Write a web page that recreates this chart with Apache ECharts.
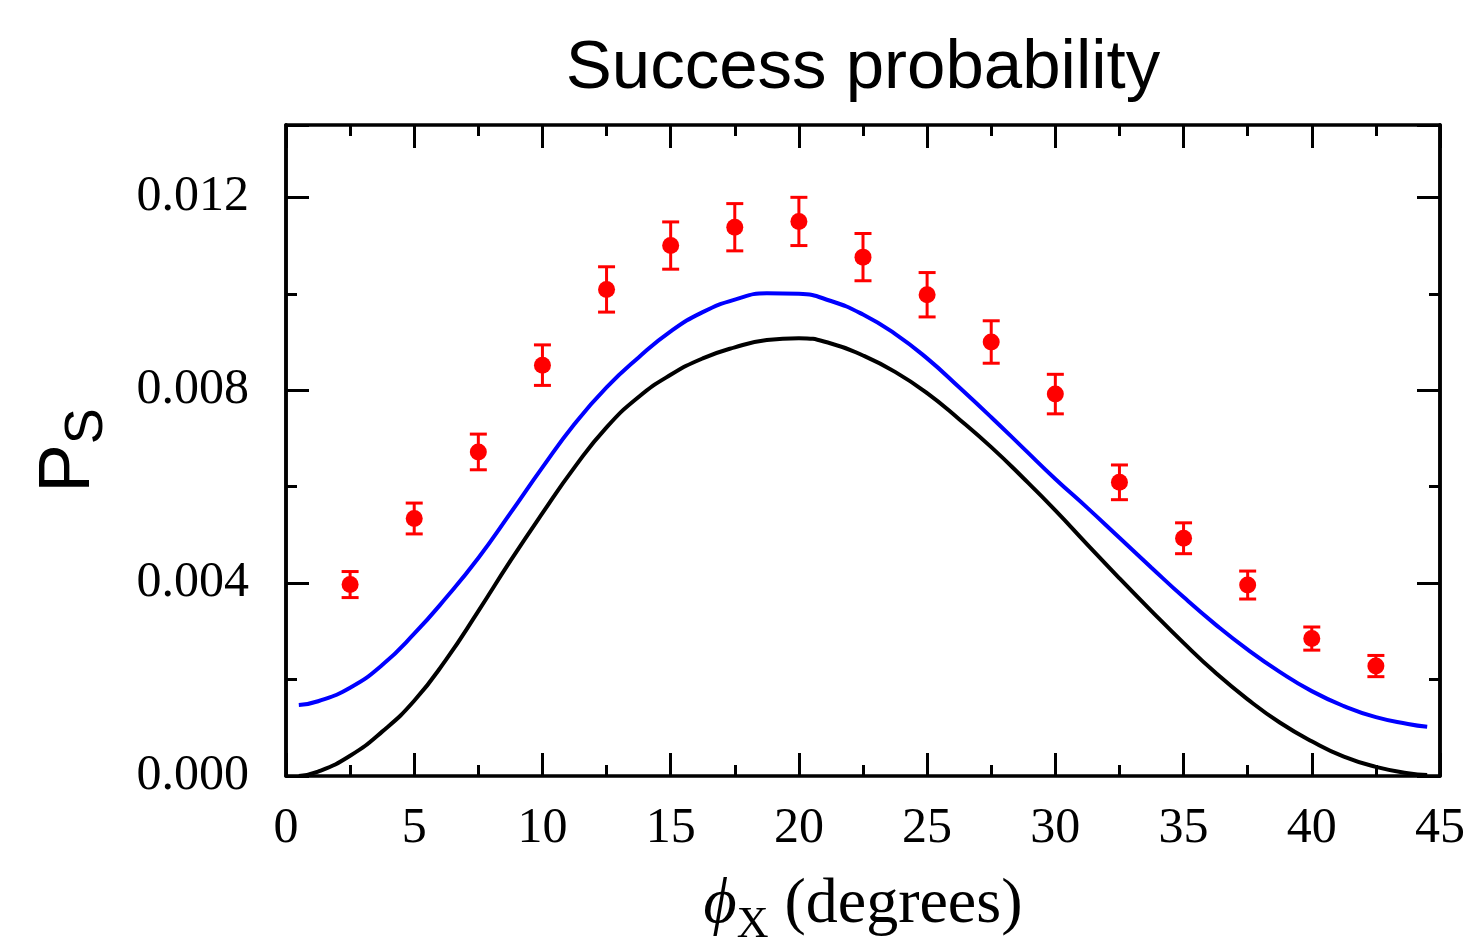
<!DOCTYPE html>
<html>
<head>
<meta charset="utf-8">
<script src="https://cdn.jsdelivr.net/npm/echarts@6/dist/echarts.min.js"></script>
<style>
html,body{margin:0;padding:0;background:#fff;}
#c{width:1466px;height:945px;}
</style>
</head>
<body>
<div id="c"></div>
<script>
// Experimental points (phi_X in degrees, success probability, error)
const expX = [2.5, 5, 7.5, 10, 12.5, 15, 17.5, 20, 22.5, 25, 27.5, 30, 32.5, 35, 37.5, 40, 42.5];
const expY = [0.00397, 0.00534, 0.00672, 0.00852, 0.01009, 0.01100, 0.01138, 0.01150, 0.01076, 0.00998, 0.00900, 0.00792, 0.00609, 0.00493, 0.00396, 0.00285, 0.00228];
const expErr = [0.00027, 0.00032, 0.00037, 0.00042, 0.00047, 0.00049, 0.00049, 0.00050, 0.00049, 0.00046, 0.00044, 0.00041, 0.00036, 0.00032, 0.00029, 0.00024, 0.00022];

// Theory curves at these phi_X positions
const curveX = [0.5, 1.25, 2.5, 3.75, 5, 6.25, 7.5, 8.75, 10, 11.25, 12.5, 13.75, 15, 16.25, 17.5, 18.75, 20, 21.25, 22.5, 23.75, 25, 26.25, 27.5, 28.75, 30, 31.25, 32.5, 33.75, 35, 36.25, 37.5, 38.75, 40, 41.25, 42.5, 43.75, 44.5];
// Blue theory curve
const blueY = [0.00147, 0.00155, 0.00183, 0.00230, 0.00295, 0.00370, 0.00452, 0.00545, 0.00640, 0.00730, 0.00806, 0.00868, 0.00922, 0.00962, 0.00988, 0.01001, 0.01000, 0.00985, 0.00957, 0.00917, 0.00866, 0.00806, 0.00744, 0.00680, 0.00616, 0.00556, 0.00494, 0.00432, 0.00371, 0.00314, 0.00262, 0.00216, 0.00176, 0.00145, 0.00122, 0.00108, 0.00102];
// Black theory curve
const blackY = [0.00000, 0.00009, 0.00042, 0.00092, 0.00156, 0.00242, 0.00342, 0.00446, 0.00545, 0.00640, 0.00723, 0.00786, 0.00832, 0.00866, 0.00889, 0.00904, 0.00908, 0.00897, 0.00872, 0.00838, 0.00794, 0.00740, 0.00682, 0.00618, 0.00551, 0.00480, 0.00410, 0.00342, 0.00276, 0.00214, 0.00159, 0.00111, 0.00072, 0.00040, 0.00019, 0.00006, 0.00002];

const xMin = 0, xMax = 45, xStep = 5;
const yMin = 0, yMax = 0.0135, yMajor = 0.004, yMinor = 0.002;

const titleText = 'Success probability';

const chart = echarts.init(document.getElementById('c'), null, {renderer: 'canvas'});

const serif = 'Liberation Serif';
const sans = 'Liberation Sans';
const frameW = 3.5;

function yAxisCfg(pos, interval, tickLen, showLabel) {
  return {
    type: 'value', position: pos, min: yMin, max: yMax, interval: interval,
    axisLine: {show: true, onZero: false, lineStyle: {color: '#000', width: frameW}},
    axisTick: {show: true, inside: true, length: tickLen, lineStyle: {color: '#000', width: 3}},
    splitLine: {show: false},
    axisLabel: showLabel ? {
      show: true, margin: 37, fontFamily: serif, fontSize: 50, color: '#000',
      formatter: function (v) {
        const r = Math.round(v / yMajor);
        if (Math.abs(r * yMajor - v) > 1e-9) return '';
        return v.toFixed(3);
      }
    } : {show: false}
  };
}

function xAxisCfg(pos, showLabel) {
  return {
    type: 'value', position: pos, min: xMin, max: xMax, interval: xStep,
    axisLine: {show: true, onZero: false, lineStyle: {color: '#000', width: frameW}},
    axisTick: {show: true, inside: true, length: 23, lineStyle: {color: '#000', width: 3}},
    minorTick: {show: true, splitNumber: 2, length: 11, lineStyle: {color: '#000', width: 3}},
    splitLine: {show: false},
    minorSplitLine: {show: false},
    axisLabel: showLabel ? {show: true, margin: 28, fontFamily: serif, fontSize: 50, color: '#000'} : {show: false}
  };
}

const xBottom = xAxisCfg('bottom', true);
xBottom.name = '{phi|ϕ}{sub|X}{t| (degrees)}';
xBottom.nameLocation = 'middle';
xBottom.nameGap = 107;
xBottom.nameTextStyle = {
  color: '#000',
  rich: {
    phi: {fontFamily: serif, fontStyle: 'italic', fontSize: 64, lineHeight: 64, padding: [0, 0, 19, 0], color: '#000'},
    sub: {fontFamily: serif, fontSize: 44, lineHeight: 44, verticalAlign: 'bottom', color: '#000'},
    t: {fontFamily: serif, fontSize: 64, lineHeight: 64, padding: [0, 0, 19, 0], color: '#000'}
  }
};

const yLeft = yAxisCfg('left', yMajor, 23, true);
yLeft.name = '{p|P}{s|S}';
yLeft.nameLocation = 'middle';
yLeft.nameGap = 172;
yLeft.nameTextStyle = {
  color: '#000',
  rich: {
    p: {fontFamily: sans, fontSize: 73, lineHeight: 73, padding: [0, 0, 17, 0], color: '#000'},
    s: {fontFamily: sans, fontSize: 54, lineHeight: 54, verticalAlign: 'bottom', color: '#000'}
  }
};

const errData = expX.map((x, i) => [x, expY[i] - expErr[i], expY[i] + expErr[i]]);
const expData = expX.map((x, i) => [x, expY[i]]);
const blueData = curveX.map((x, i) => [x, blueY[i]]);
const blackData = curveX.map((x, i) => [x, blackY[i]]);

const option = {
  animation: false,
  backgroundColor: '#fff',
  title: {
    text: titleText, left: 863, top: 34, textAlign: 'center', padding: 0,
    textStyle: {fontFamily: sans, fontSize: 69, fontWeight: 'normal', color: '#000'}
  },
  grid: {left: 286, right: 26, top: 125, bottom: 169, containLabel: false, outerBoundsMode: 'none'},
  xAxis: [xBottom, xAxisCfg('top', false)],
  yAxis: [
    yLeft,
    yAxisCfg('left', yMinor, 11, false),
    yAxisCfg('right', yMajor, 23, false),
    yAxisCfg('right', yMinor, 11, false)
  ],
  series: [
    {
      type: 'line', data: blackData, xAxisIndex: 0, yAxisIndex: 0,
      smooth: 0.5, showSymbol: false, symbol: 'none',
      lineStyle: {color: '#000', width: 4}, z: 2
    },
    {
      type: 'line', data: blueData, xAxisIndex: 0, yAxisIndex: 0,
      smooth: 0.5, showSymbol: false, symbol: 'none',
      lineStyle: {color: '#0000ff', width: 4}, z: 2
    },
    {
      type: 'custom', xAxisIndex: 0, yAxisIndex: 0, data: errData, z: 3,
      renderItem: function (params, api) {
        const x = api.value(0);
        const top = api.coord([x, api.value(2)]);
        const bot = api.coord([x, api.value(1)]);
        const half = 8.5;
        const st = {stroke: '#ff0000', lineWidth: 3};
        return {
          type: 'group',
          children: [
            {type: 'line', shape: {x1: top[0], y1: top[1], x2: bot[0], y2: bot[1]}, style: st},
            {type: 'line', shape: {x1: top[0] - half, y1: top[1], x2: top[0] + half, y2: top[1]}, style: st},
            {type: 'line', shape: {x1: bot[0] - half, y1: bot[1], x2: bot[0] + half, y2: bot[1]}, style: st}
          ]
        };
      }
    },
    {
      type: 'scatter', data: expData, xAxisIndex: 0, yAxisIndex: 0,
      symbol: 'circle', symbolSize: 17, itemStyle: {color: '#ff0000', opacity: 1}, z: 4
    }
  ]
};
chart.setOption(option);
</script>
</body>
</html>
